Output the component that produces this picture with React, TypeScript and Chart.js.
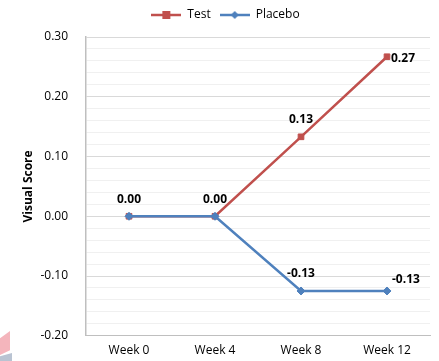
import React, { useEffect, useRef } from "react";
import { Chart, registerables } from "chart.js";

Chart.register(...registerables);

const weeks = ["Week 0", "Week 4", "Week 8", "Week 12"];
const testScores = [0, 0, 0.133, 0.267];
const placeboScores = [0, 0, -0.125, -0.125];
const yTickValues = [-0.2, -0.1, 0, 0.1, 0.2, 0.3];

// where each value label sits relative to its point (null = not drawn)
const testLabelPlacement = ["above", "above", "above", "right"];
const placeboLabelPlacement = [null, null, "above", "aboveRight"];

const RED = "#C0504D";
const BLUE = "#4F81BD";
const FONT = "'Open Sans', 'Noto Sans', sans-serif";

function legendSwatch(color: string, marker: "square" | "diamond") {
  const c = document.createElement("canvas");
  c.width = 30;
  c.height = 10;
  const ctx = c.getContext("2d")!;
  ctx.strokeStyle = color;
  ctx.lineWidth = 2.5;
  ctx.beginPath();
  ctx.moveTo(0, 5);
  ctx.lineTo(30, 5);
  ctx.stroke();
  ctx.fillStyle = color;
  if (marker === "square") {
    ctx.fillRect(11, 1, 8, 8);
  } else {
    ctx.beginPath();
    ctx.moveTo(15, 1);
    ctx.lineTo(19, 5);
    ctx.lineTo(15, 9);
    ctx.lineTo(11, 5);
    ctx.closePath();
    ctx.fill();
  }
  return c;
}

// fixes the legend band height so the plot starts below it at a set offset
const legendBand = {
  id: "legendBand",
  afterInit(chart: any) {
    const legend = chart.legend;
    if (!legend) return;
    const fit = legend.fit;
    legend.fit = function () {
      fit.call(this);
      this.height = 37;
    };
  },
};

const valueLabels = {
  id: "valueLabels",
  afterDatasetsDraw(chart: any) {
    const ctx = chart.ctx;
    const placements = [testLabelPlacement, placeboLabelPlacement];
    ctx.save();
    ctx.font = `bold 12px ${FONT}`;
    ctx.fillStyle = "#000";
    ctx.textBaseline = "middle";
    chart.data.datasets.forEach((ds: any, di: number) => {
      const meta = chart.getDatasetMeta(di);
      meta.data.forEach((pt: any, i: number) => {
        const place = placements[di][i];
        if (!place) return;
        const text = (ds.data[i] as number).toFixed(2);
        let x = pt.x;
        let y = pt.y;
        if (place === "above") {
          ctx.textAlign = "center";
          y -= 17;
        } else if (place === "right") {
          ctx.textAlign = "left";
          x += 4;
          y += 2;
        } else {
          ctx.textAlign = "left";
          x += 5;
          y -= 11;
        }
        ctx.fillText(text, x, y);
      });
    });
    ctx.restore();
  },
};

export default function App() {
  const ref = useRef<HTMLCanvasElement | null>(null);

  useEffect(() => {
    if (!ref.current) return;
    const isMajor = (v: number) => Math.abs(v * 10 - Math.round(v * 10)) < 1e-6;
    const chart = new Chart(ref.current, {
      type: "line",
      data: {
        labels: weeks,
        datasets: [
          {
            label: "Test",
            data: testScores,
            borderColor: RED,
            backgroundColor: RED,
            borderWidth: 2.5,
            pointStyle: "rect",
            pointRadius: 4,
            pointBorderWidth: 1,
            pointBackgroundColor: RED,
            pointBorderColor: RED,
            order: 1,
          },
          {
            label: "Placebo",
            data: placeboScores,
            borderColor: BLUE,
            backgroundColor: BLUE,
            borderWidth: 2.5,
            pointStyle: "rectRot",
            pointRadius: 4,
            pointBorderWidth: 1,
            pointBackgroundColor: BLUE,
            pointBorderColor: BLUE,
            order: 0,
          },
        ],
      },
      options: {
        responsive: false,
        animation: false,
        layout: { padding: { left: 21, right: 9, top: 0, bottom: 0 } },
        plugins: {
          tooltip: { enabled: false },
          legend: {
            position: "top",
            labels: {
              usePointStyle: true,
              pointStyleWidth: 30,
              color: "#000",
              font: { family: FONT, size: 12 },
              padding: 9,
              sort: (a: any, b: any) => a.datasetIndex - b.datasetIndex,
              generateLabels: (chart: any) =>
                chart.data.datasets.map((ds: any, i: number) => ({
                  text: ds.label,
                  datasetIndex: i,
                  pointStyle: legendSwatch(ds.borderColor, i === 0 ? "square" : "diamond"),
                  fillStyle: ds.borderColor,
                  strokeStyle: ds.borderColor,
                  lineWidth: 0,
                  hidden: false,
                  fontColor: "#000",
                })),
            },
          },
        },
        scales: {
          x: {
            offset: true,
            grid: { display: false, drawTicks: false },
            border: { display: true, color: "#BFBFBF", width: 1 },
            ticks: {
              color: "#000",
              font: { family: FONT, size: 12 },
              padding: 8,
            },
            afterFit: (s: any) => {
              s.height = 25;
            },
          },
          y: {
            min: -0.2,
            max: 0.3,
            title: {
              display: true,
              text: "Visual Score",
              color: "#000",
              font: { family: FONT, size: 12, weight: "bold" },
              padding: { top: 0, bottom: 4 },
            },
            grid: {
              drawTicks: false,
              color: (c: any) => (isMajor(c.tick.value) ? "#D9D9D9" : "#F0F0F0"),
              lineWidth: 1,
            },
            border: { display: true, color: "#BFBFBF", width: 1.5 },
            afterBuildTicks: (axis: any) => {
              const t = [];
              for (let k = -10; k <= 15; k++) t.push({ value: k / 50 });
              axis.ticks = t;
            },
            afterFit: (s: any) => {
              s.width = 65;
            },
            ticks: {
              color: "#000",
              font: { family: FONT, size: 12 },
              padding: 18,
              autoSkip: false,
              callback: (v: any) => {
                const n = Number(v);
                const hit = yTickValues.find((t) => Math.abs(t - n) < 1e-6);
                return hit === undefined ? "" : hit.toFixed(2);
              },
            },
          },
        },
      },
      plugins: [legendBand, valueLabels],
    });
    return () => chart.destroy();
  }, []);

  return (
    <div style={{ position: "fixed", left: 0, top: 0, width: 439, height: 361, background: "#fff" }}>
      <canvas ref={ref} width={439} height={361} style={{ display: "block" }} />
      <div
        style={{
          position: "absolute",
          left: 0,
          top: 331,
          width: 10,
          height: 24,
          background: "#F4B5BC",
          clipPath: "polygon(0 30%, 100% 0, 100% 80%, 0 100%)",
        }}
      />
      <div
        style={{
          position: "absolute",
          left: 0,
          top: 353,
          width: 12,
          height: 8,
          background: "#B9C3D2",
          clipPath: "polygon(0 40%, 100% 0, 100% 100%, 0 100%)",
        }}
      />
    </div>
  );
}
